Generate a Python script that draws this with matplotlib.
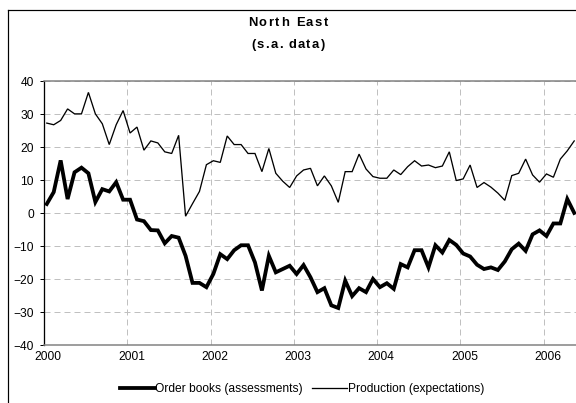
import numpy as np
import matplotlib
matplotlib.use("Agg")
from matplotlib import pyplot as plt
from matplotlib import font_manager, ft2font
from matplotlib.lines import Line2D

# monthly data, Jan 2000 .. May 2006
order_books = [2.7, 6.3, 15.9, 4.2, 12.3, 13.7, 12.0, 3.3, 7.2, 6.5, 9.3, 4.0,
               4.0, -2.0, -2.5, -5.2, -5.3, -9.2, -7.0, -7.5, -13.0, -21.2, -21.2, -22.5,
               -18.5, -12.5, -14.0, -11.3, -9.8, -9.8, -15.0, -23.5, -13.0, -18.0, -17.0, -16.0,
               -18.5, -15.8, -19.5, -24.0, -22.8, -28.0, -28.8, -20.5, -25.2, -22.8, -24.0, -20.0,
               -22.5, -21.3, -23.0, -15.5, -16.5, -11.3, -11.3, -16.5, -9.8, -12.0, -8.2, -9.7,
               -12.3, -13.2, -15.7, -17.0, -16.5, -17.3, -14.7, -11.0, -9.3, -11.5, -6.5, -5.3,
               -7.0, -3.2, -3.2, 4.2, 0.0]
production = [27.2, 26.7, 28.0, 31.5, 30.0, 30.0, 36.5, 30.0, 27.0, 20.7, 26.7, 31.0,
              24.2, 26.0, 19.0, 21.8, 21.2, 18.5, 18.0, 23.5, -1.0, 2.8, 6.5, 14.6,
              15.8, 15.3, 23.3, 20.7, 20.7, 18.0, 18.0, 12.5, 19.5, 12.0, 9.6, 7.7,
              11.2, 13.0, 13.5, 8.2, 11.2, 8.2, 3.2, 12.5, 12.5, 17.8, 13.3, 11.0,
              10.5, 10.5, 13.0, 11.6, 14.0, 15.8, 14.2, 14.5, 13.7, 14.2, 18.5, 9.8,
              10.3, 14.5, 7.7, 9.2, 7.8, 6.0, 3.8, 11.3, 12.0, 16.3, 11.5, 9.3,
              11.8, 10.8, 16.3, 18.8, 21.8]
years = ["2000", "2001", "2002", "2003", "2004", "2005", "2006"]
series_names = ["Order books (assessments)", "Production (expectations)"]

plt.rcParams["font.family"] = ["Liberation Sans", "DejaVu Sans"]

months = np.arange(len(order_books)) + 0.4

fig = plt.figure(figsize=(8, 5.6), dpi=72)
ax = fig.add_axes([44/576., 58/403., 532/576., 264/403.])

l1, = ax.plot(months, order_books, color="black", lw=3.8, solid_joinstyle="miter")
l2, = ax.plot(months, production, color="black", lw=1.3, solid_joinstyle="miter")

ax.set_xlim(0, 532/6.94)
ax.set_ylim(-40, 40)
ax.set_yticks(np.arange(-40, 41, 10))
ax.set_xticks(np.arange(len(years))*12, minor=True)
ax.set_xticks(np.arange(len(years))*12 + 0.6)
ax.set_xticklabels(years)
ax.tick_params(axis="x", which="both", length=0, pad=6, labelsize=12)
ax.tick_params(axis="y", length=4, width=1, pad=6, labelsize=12, direction="out")

ax.grid(True, axis="y", which="major", color="#c0c0c0", lw=1, ls=(0, (6, 4)))
ax.grid(True, axis="x", which="minor", color="#c0c0c0", lw=1, ls=(0, (6, 4)))
ax.set_axisbelow(True)

ax.spines["left"].set_color("black")
ax.spines["left"].set_linewidth(1.3)
for s in ["top", "bottom"]:
    ax.spines[s].set_color("#808080")
    ax.spines[s].set_linewidth(1.5)
ax.spines["right"].set_visible(False)

# outer chart border (cut off on the right and at the bottom)
fig.add_artist(Line2D([8/576., 8/576.], [0, 1 - 10/403.], color="black", lw=1.2,
                      transform=fig.transFigure))
fig.add_artist(Line2D([8/576., 1], [1 - 10/403., 1 - 10/403.], color="black", lw=1.2,
                      transform=fig.transFigure))

# title with Excel-like letter spacing
def spaced_text(s, xc, yc, size, spacing):
    fp = font_manager.findfont(font_manager.FontProperties(family="Liberation Sans", weight="bold"))
    f = ft2font.FT2Font(fp)
    f.set_size(size, 72)
    adv = [f.load_char(ord(c)).linearHoriAdvance/65536. for c in s]
    total = sum(adv) + spacing*(len(s) - 1)
    x = xc - total/2.
    for c, a in zip(s, adv):
        fig.text(x/576., 1 - yc/403., c, fontsize=size, fontweight="bold",
                 ha="left", va="center")
        x += a + spacing

spaced_text("North East", 288, 23, 13, 1.6)
spaced_text("(s.a. data)", 288, 45, 13, 1.3)

fig.legend([l1, l2], series_names, loc="center", bbox_to_anchor=(302/576., 1 - 389/403.),
           ncol=2, frameon=False, fontsize=12, handlelength=2.9, handletextpad=0.05,
           columnspacing=0.8)

fig.savefig("out.png", dpi=72)
